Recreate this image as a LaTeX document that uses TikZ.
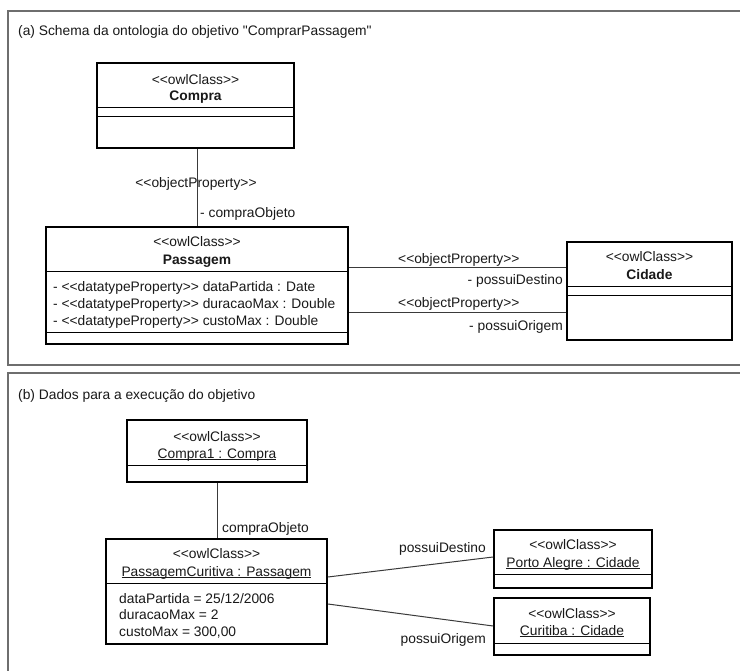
\documentclass[tikz,border=0pt]{standalone}
\usepackage{fontspec}
\newfontfamily\uml{Liberation Sans}[Ligatures=TeXOff]
\newcommand{\ulx}[1]{\underline{\smash{#1}}}
\definecolor{framegray}{HTML}{6E6E6E}
\definecolor{connc}{HTML}{3A3A3A}
\begin{document}
\begin{tikzpicture}[x=1pt,y=-1pt,
  txt/.style={font=\uml\fontsize{13.8}{17}\selectfont, inner sep=0pt, text=black!90},
  boldtxt/.style={txt, font=\uml\bfseries\fontsize{13.8}{17}\selectfont},
  umlbox/.style={draw=black, line width=1.8pt, inner sep=0pt, fill=white},
  divider/.style={draw=black, line width=0.9pt},
  panel/.style={draw=framegray, line width=2pt},
  conn/.style={draw=connc, line width=1pt},
]
\useasboundingbox (0,0) rectangle (740,671);
\clip (0,0) rectangle (740,671);
\fill[white] (0,0) rectangle (740,671);

% panels
\draw[panel] (8,11) rectangle (770,365);
\draw[panel] (8,373) rectangle (770,700);

% ---------------- panel (a)
\node[txt, anchor=base west] (ta) at (18,36) {(a) Schema da ontologia do objetivo "ComprarPassagem"};

\node[umlbox, minimum width=197pt, minimum height=85pt] (compra) at (195.5,105.5) {};
\draw[divider] (compra.west |- 0,107) -- (compra.east |- 0,107);
\draw[divider] (compra.west |- 0,116) -- (compra.east |- 0,116);
\node[txt, anchor=base] (compraS) at (195.5,85) {<<owlClass>>};
\node[boldtxt, anchor=base] (compraN) at (195.5,101) {Compra};

\node[umlbox, minimum width=302pt, minimum height=117pt] (passagem) at (197,285.5) {};
\draw[divider] (passagem.west |- 0,271) -- (passagem.east |- 0,271);
\draw[divider] (passagem.west |- 0,332) -- (passagem.east |- 0,332);
\node[txt, anchor=base] (passS) at (197,247) {<<owlClass>>};
\node[boldtxt, anchor=base] (passN) at (197,265) {Passagem};
\node[txt, anchor=base west] (pa1) at (53,291.5) {- <<datatypeProperty>> dataPartida : Date};
\node[txt, anchor=base west] (pa2) at (53,308.5) {- <<datatypeProperty>> duracaoMax : Double};
\node[txt, anchor=base west] (pa3) at (53,325.5) {- <<datatypeProperty>> custoMax : Double};

\node[umlbox, minimum width=165pt, minimum height=98pt] (cidade) at (649.5,291) {};
\draw[divider] (cidade.west |- 0,286) -- (cidade.east |- 0,286);
\draw[divider] (cidade.west |- 0,295) -- (cidade.east |- 0,295);
\node[txt, anchor=base] (cidS) at (649.5,262) {<<owlClass>>};
\node[boldtxt, anchor=base] (cidN) at (649.5,279.5) {Cidade};

% connectors (a)
\draw[conn] (passagem.north) -- (passagem.north |- compra.south);
\draw[conn] (passagem.east |- 0,268) -- (cidade.west |- 0,268);
\draw[conn] (passagem.east |- 0,313) -- (cidade.west |- 0,313);

\node[txt, anchor=base] (op1) at (196,188) {<<objectProperty>>};
\node[txt, anchor=base west] (co1) at (200,218) {- compraObjeto};
\node[txt, anchor=base west] (op2) at (398,264) {<<objectProperty>>};
\node[txt, anchor=base east] (pd1) at (563,285) {- possuiDestino};
\node[txt, anchor=base west] (op3) at (398,308) {<<objectProperty>>};
\node[txt, anchor=base east] (po1) at (563,331) {- possuiOrigem};

% ---------------- panel (b)
\node[txt, anchor=base west] (tb) at (18,400) {(b) Dados para a execução do objetivo};

\node[umlbox, minimum width=180pt, minimum height=62pt] (compra1) at (217,451) {};
\draw[divider] (compra1.west |- 0,465) -- (compra1.east |- 0,465);
\node[txt, anchor=base] (c1S) at (217,442) {<<owlClass>>};
\node[txt, anchor=base] (c1N) at (217,458) {\ulx{Compra1 : Compra}};

\node[umlbox, minimum width=221pt, minimum height=105pt] (pc) at (216.5,591.5) {};
\draw[divider] (pc.west |- 0,583) -- (pc.east |- 0,583);
\node[txt, anchor=base] (pcS) at (216.5,558) {<<owlClass>>};
\node[txt, anchor=base] (pcN) at (216.5,576) {\ulx{PassagemCuritiva : Passagem}};
\node[txt, anchor=base west] (pb1) at (119,603) {dataPartida = 25/12/2006};
\node[txt, anchor=base west] (pb2) at (119,619.5) {duracaoMax = 2};
\node[txt, anchor=base west] (pb3) at (119,636) {custoMax = 300,00};

\node[umlbox, minimum width=158pt, minimum height=58pt] (porto) at (573,559) {};
\draw[divider] (porto.west |- 0,574) -- (porto.east |- 0,574);
\node[txt, anchor=base] (poS) at (573,549) {<<owlClass>>};
\node[txt, anchor=base] (poN) at (573,567) {\ulx{Porto Alegre : Cidade}};

\node[umlbox, minimum width=156pt, minimum height=57pt] (curitiba) at (572,626.5) {};
\draw[divider] (curitiba.west |- 0,643) -- (curitiba.east |- 0,643);
\node[txt, anchor=base] (cuS) at (572,618) {<<owlClass>>};
\node[txt, anchor=base] (cuN) at (572,635) {\ulx{Curitiba : Cidade}};

% connectors (b)
\draw[conn] (compra1.south) -- (compra1.south |- pc.north);
\draw[conn] (pc.east |- 0,577) -- (porto.west |- 0,557);
\draw[conn] (pc.east |- 0,604) -- (curitiba.west |- 0,626);

\node[txt, anchor=base west] (co2) at (222,532) {compraObjeto};
\node[txt, anchor=base east] (pd2) at (486,552) {possuiDestino};
\node[txt, anchor=base east] (po2) at (486,643) {possuiOrigem};
\end{tikzpicture}
\end{document}
